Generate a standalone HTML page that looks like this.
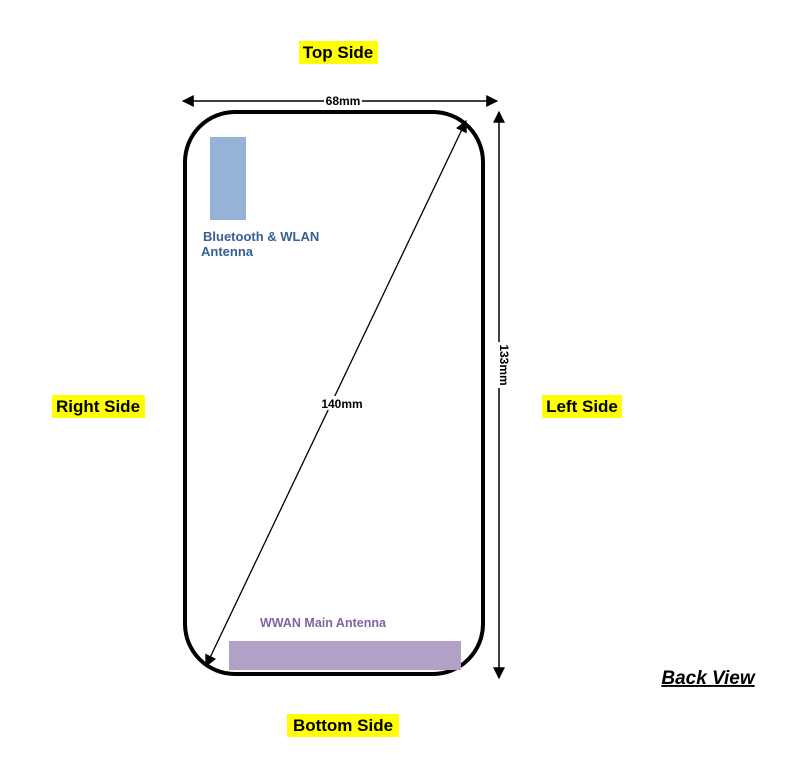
<!DOCTYPE html>
<html><head><style>
html,body{margin:0;padding:0;background:#fff;}
svg{display:block;}
text{font-family:"Liberation Sans",Arial,sans-serif;font-weight:bold;}
</style></head><body>
<svg width="806" height="766" viewBox="0 0 806 766" xmlns="http://www.w3.org/2000/svg">
<defs>
<marker id="ab" viewBox="0 0 10 10" refX="9" refY="5" markerWidth="14" markerHeight="12" orient="auto-start-reverse" markerUnits="userSpaceOnUse">
<path d="M0,0 L10,5 L0,10 z" fill="#000"/>
</marker>
</defs>
<rect x="185" y="112" width="298" height="562" rx="50" ry="50" fill="none" stroke="#000" stroke-width="4"/>
<rect x="210" y="137" width="36" height="83" fill="#95b3d7"/>
<rect x="229" y="641" width="232" height="29" fill="#b2a1c7"/>
<line x1="183" y1="101" x2="497" y2="101" stroke="#000" stroke-width="1.5" marker-start="url(#ab)" marker-end="url(#ab)"/>
<rect x="324" y="95" width="38" height="12" fill="#fff"/>
<text x="343" y="105" font-size="12" text-anchor="middle">68mm</text>
<line x1="499" y1="112" x2="499" y2="678" stroke="#000" stroke-width="1.5" marker-start="url(#ab)" marker-end="url(#ab)"/>
<rect x="494" y="342" width="14" height="46" fill="#fff"/>
<text transform="translate(500,365) rotate(90)" font-size="12" text-anchor="middle">133mm</text>
<line x1="466" y1="121" x2="206" y2="666" stroke="#000" stroke-width="1.3" marker-start="url(#ab)" marker-end="url(#ab)"/>
<rect x="318" y="396" width="48" height="14" fill="#fff"/>
<text x="342" y="408" font-size="12" text-anchor="middle">140mm</text>
<text x="203" y="241" font-size="13" fill="#366092">Bluetooth &amp; WLAN</text>
<text x="201" y="256" font-size="13" fill="#366092">Antenna</text>
<text x="260" y="627" font-size="12.5" fill="#8064a2">WWAN Main Antenna</text>
<rect x="299" y="41" width="79" height="23" fill="#ffff00"/>
<text x="338" y="58" font-size="17" text-anchor="middle">Top Side</text>
<rect x="52" y="395" width="93" height="23" fill="#ffff00"/>
<text x="98" y="412" font-size="17" text-anchor="middle">Right Side</text>
<rect x="542" y="395" width="80" height="23" fill="#ffff00"/>
<text x="582" y="412" font-size="17" text-anchor="middle">Left Side</text>
<rect x="287" y="714" width="112" height="23" fill="#ffff00"/>
<text x="343" y="731" font-size="17" text-anchor="middle">Bottom Side</text>
<text x="708" y="684" font-size="19" font-style="italic" text-anchor="middle" text-decoration="underline">Back View</text>
</svg>
</body></html>
